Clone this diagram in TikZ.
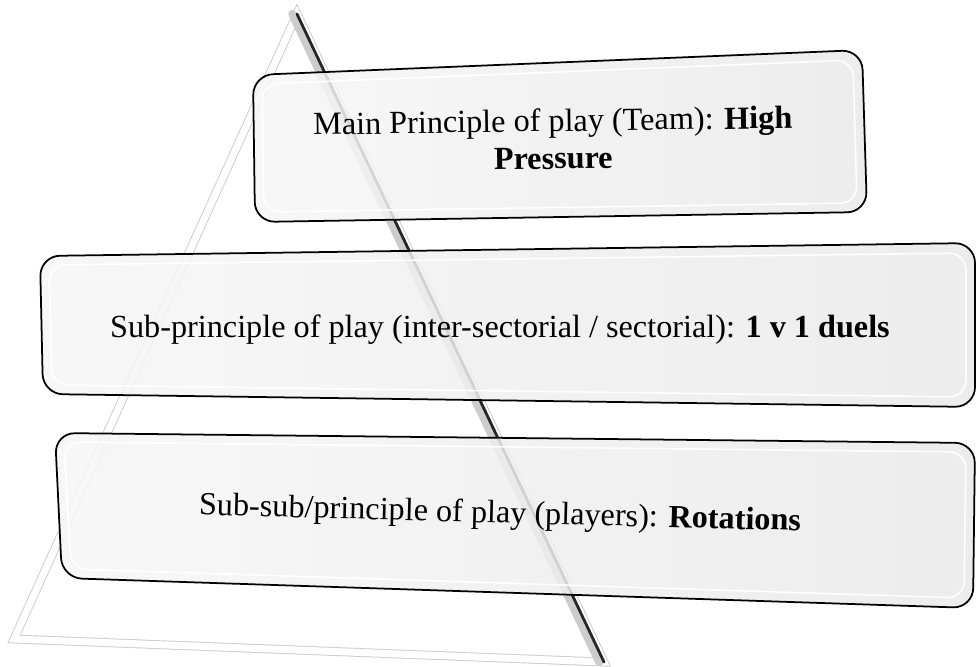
\documentclass[tikz,border=0pt]{standalone}
\usepackage{fontspec}
\setmainfont{Liberation Serif}
\begin{document}
\begin{tikzpicture}[
	x=0.03cm, y=-0.03cm,
	frame/.style={draw=gray!40, line width=0.8pt, double=white, double distance=6pt},
	plate/.style={draw=black, line width=1.5pt, rounded corners=0.6cm, left color=gray!7, right color=gray!17, fill opacity=0.85},
	gloss/.style={draw=white, line width=1.3pt, rounded corners=0.5cm},
	txt/.style={font=\fontsize{27.5}{32}\selectfont, align=center},
	]
\useasboundingbox (0,0) rectangle (977,666);
% pyramid
\coordinate (apex) at (297,14);
\coordinate (bl) at (14,639);
\coordinate (br) at (604,662);
\draw[frame, line join=miter] (apex) -- (bl) -- (br) -- cycle;
\draw[line width=7pt, black!20, line cap=round] ([xshift=-4pt]apex) -- ([xshift=-4pt]br);
\draw[line width=2.4pt, black!85, line cap=round] (apex) -- (br);
% boxes
\draw[plate] (253,75) -- (862,50) -- (867,212) -- (255,222) -- cycle;
\draw[gloss] (262,84) -- (853,60) -- (857,203) -- (264,212) -- cycle;
\draw[plate] (40,256) -- (975,243) -- (975,407) -- (43,394) -- cycle;
\draw[gloss] (49,265) -- (966,253) -- (966,397) -- (52,385) -- cycle;
\draw[plate] (55,433) -- (975,443) -- (973,608) -- (62,578) -- cycle;
\draw[gloss] (64,442) -- (966,452) -- (964,598) -- (71,569) -- cycle;
% labels
\node[txt, rotate=0.8] (main) at (553,139) {Main Principle of play (Team): \textbf{High}\\\textbf{Pressure}};
\node[txt] (sub) at (500,330) {Sub-principle of play (inter-sectorial / sectorial): \textbf{1 v 1 duels}};
\node[txt, rotate=-1.5] (subsub) at (500,515) {Sub-sub/principle of play (players): \textbf{Rotations}};
\end{tikzpicture}
\end{document}
